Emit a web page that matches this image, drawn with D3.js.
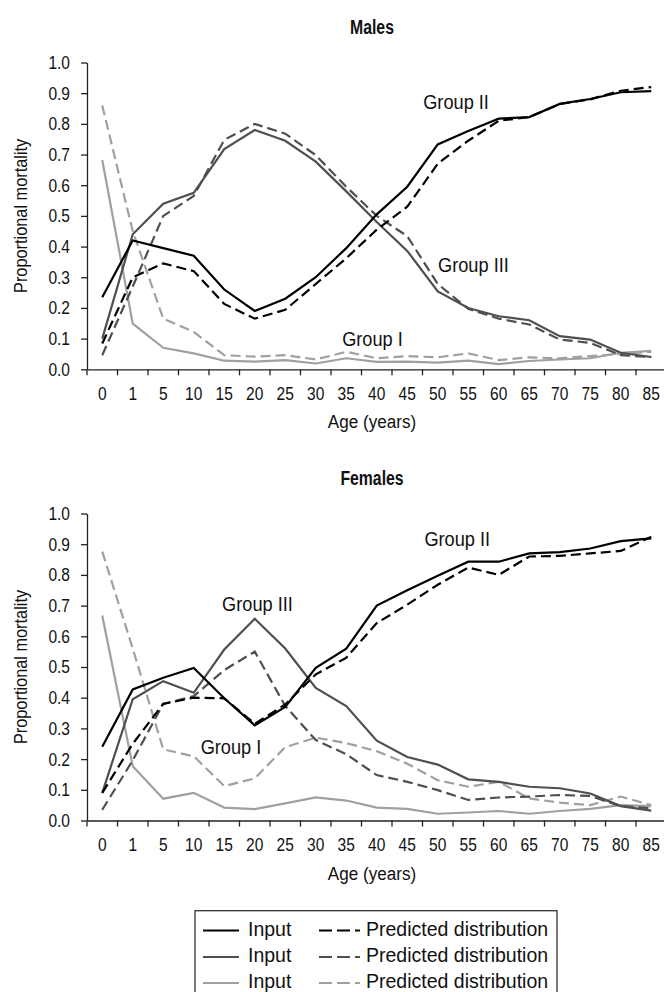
<!DOCTYPE html>
<html><head><meta charset="utf-8">
<script src="https://cdn.jsdelivr.net/npm/d3@7"></script>
<style>
html,body{margin:0;padding:0;background:#fff;}
svg{display:block;}
</style></head>
<body>
<svg id="chart" width="664" height="992"></svg>
<script>
// ---------- data ----------
const ages = ["0","1","5","10","15","20","25","30","35","40","45","50","55","60","65","70","75","80","85"];
const yTickValues = [0,0.1,0.2,0.3,0.4,0.5,0.6,0.7,0.8,0.9,1.0];

const maleG2Input = [0.235,0.42,0.395,0.37,0.26,0.19,0.23,0.30,0.395,0.505,0.595,0.733,0.777,0.817,0.822,0.865,0.881,0.903,0.907];
const maleG2Pred  = [0.084,0.30,0.345,0.32,0.213,0.165,0.194,0.278,0.362,0.455,0.53,0.67,0.745,0.81,0.822,0.865,0.88,0.908,0.92];
const maleG3Input = [0.10,0.44,0.54,0.575,0.718,0.78,0.745,0.677,0.58,0.48,0.386,0.254,0.20,0.173,0.16,0.108,0.097,0.054,0.04];
const maleG3Pred  = [0.046,0.27,0.50,0.565,0.748,0.80,0.768,0.698,0.595,0.50,0.434,0.278,0.197,0.165,0.146,0.097,0.086,0.046,0.04];
const maleG1Input = [0.682,0.149,0.07,0.052,0.028,0.025,0.03,0.019,0.036,0.024,0.025,0.022,0.028,0.017,0.027,0.032,0.036,0.054,0.06];
const maleG1Pred  = [0.86,0.45,0.165,0.122,0.046,0.041,0.046,0.032,0.057,0.036,0.043,0.039,0.052,0.03,0.039,0.036,0.043,0.05,0.057];

const femG2Input = [0.24,0.427,0.465,0.497,0.398,0.31,0.37,0.497,0.56,0.70,0.75,0.797,0.843,0.843,0.87,0.874,0.886,0.91,0.919];
const femG2Pred  = [0.09,0.25,0.38,0.40,0.398,0.315,0.378,0.476,0.53,0.643,0.703,0.768,0.824,0.80,0.86,0.862,0.87,0.878,0.924];
const femG3Input = [0.09,0.395,0.454,0.416,0.557,0.657,0.56,0.432,0.373,0.26,0.207,0.182,0.134,0.126,0.11,0.105,0.088,0.047,0.032];
const femG3Pred  = [0.035,0.196,0.38,0.405,0.49,0.55,0.373,0.262,0.216,0.148,0.126,0.099,0.067,0.075,0.078,0.083,0.08,0.047,0.04];
const femG1Input = [0.668,0.177,0.071,0.09,0.042,0.037,0.056,0.075,0.065,0.042,0.038,0.022,0.026,0.031,0.022,0.031,0.038,0.05,0.047];
const femG1Pred  = [0.876,0.56,0.232,0.209,0.112,0.137,0.239,0.27,0.252,0.226,0.185,0.131,0.11,0.126,0.072,0.058,0.05,0.078,0.05];

const panelTitles = ["Males","Females"];
const xAxisTitle = "Age (years)";
const yAxisTitle = "Proportional mortality";
const groupNames = ["Group I","Group II","Group III"];
const legendInput = ["Input","Input","Input"];
const legendPred = ["Predicted distribution","Predicted distribution","Predicted distribution"];

// ---------- styles ----------
const FONT = '"Liberation Sans",Arial,Helvetica,sans-serif';
const COL = {g2:"#000000", g3:"#4f4f4f", g1:"#a0a0a0"};
const AXIS = "#222";
const DASH = "10,5";
const LW = 2.2;

const svg = d3.select("#chart");
const x = d3.scaleBand().domain(ages).range([87,666.5]).paddingInner(0).paddingOuter(0);
const xi = i => x.range()[0] + (i+0.5)*x.step();

// horizontally condense a text (emulates a condensed typeface)
function condense(sel, s){
  sel.each(function(){
    const t = d3.select(this);
    const xx = +(t.attr("x")||0);
    t.attr("x", xx/s).attr("transform", `scale(${s},1)`);
  });
}
function ctext(parent, px, py, str, size, s, opts={}){
  const t = parent.append("text")
    .attr("transform", `translate(${px},${py})${opts.rot?` rotate(${opts.rot})`:""} scale(${s},1)`)
    .attr("text-anchor", opts.anchor||"middle")
    .style("font-family", FONT).style("font-size", size+"px")
    .style("font-weight", opts.bold?"bold":"normal")
    .attr("fill", "#111").text(str);
  if (opts.dy) t.attr("dy", opts.dy);
  return t;
}

function panel(p){
  const y = d3.scaleLinear().domain([0,1]).range([p.yBottom, p.yTop]);
  const g = svg.append("g");

  // title
  ctext(g, 372, p.titleY, p.title, 20.5, 0.77, {bold:true});

  // y axis
  const ya = g.append("g").attr("transform","translate(87,0)")
    .call(d3.axisLeft(y).tickValues(yTickValues).tickFormat(d3.format(".1f")).tickSize(6).tickSizeOuter(0).tickPadding(11));
  // x axis (labels at band centres)
  const xa = g.append("g").attr("transform",`translate(0,${p.yBottom})`)
    .call(d3.axisBottom(x).tickSize(0).tickSizeOuter(0).tickPadding(17.5));
  // boundary ticks
  xa.selectAll("line.bt").data(ages).join("line").attr("class","bt")
    .attr("x1",d=>x(d)).attr("x2",d=>x(d)).attr("y1",0).attr("y2",6);
  [ya,xa].forEach(a=>{
    a.selectAll("path.domain").attr("stroke",AXIS).attr("stroke-width",1.3);
    a.selectAll("line").attr("stroke",AXIS).attr("stroke-width",1.3);
    a.selectAll("text").style("font-family",FONT).style("font-size","18.5px").attr("fill","#111");
    condense(a.selectAll("text"), 0.84);
  });

  // axis titles
  ctext(g, 372, p.yBottom+59, xAxisTitle, 19, 0.9);
  ctext(g, 27, (p.yTop+p.yBottom)/2, yAxisTitle, 19, 0.86, {rot:-90});

  // lines
  const line = d3.line().x((d,i)=>xi(i)).y(d=>y(d));
  const order = [
    {d:p.g1i,c:COL.g1,dash:null},{d:p.g1p,c:COL.g1,dash:DASH},
    {d:p.g3i,c:COL.g3,dash:null},{d:p.g3p,c:COL.g3,dash:DASH},
    {d:p.g2i,c:COL.g2,dash:null},{d:p.g2p,c:COL.g2,dash:DASH}
  ];
  g.selectAll("path.series").data(order).join("path").attr("class","series")
    .attr("d",s=>line(s.d)).attr("fill","none").attr("stroke",s=>s.c)
    .attr("stroke-width",LW).attr("stroke-dasharray",s=>s.dash);

  // group labels (anchored in data coordinates)
  p.labels.forEach(d=>ctext(g, xi(d.i), y(d.v), d.t, 20, 0.91));
}

panel({title:panelTitles[0], titleY:34, yTop:62.5, yBottom:369.3,
  g1i:maleG1Input,g1p:maleG1Pred,g2i:maleG2Input,g2p:maleG2Pred,g3i:maleG3Input,g3p:maleG3Pred,
  labels:[{t:groupNames[1],i:11.6,v:0.848},{t:groupNames[2],i:12.17,v:0.318},{t:groupNames[0],i:8.86,v:0.076}]});
panel({title:panelTitles[1], titleY:485, yTop:513.5, yBottom:820.5,
  g1i:femG1Input,g1p:femG1Pred,g2i:femG2Input,g2p:femG2Pred,g3i:femG3Input,g3p:femG3Pred,
  labels:[{t:groupNames[1],i:11.64,v:0.894},{t:groupNames[2],i:5.09,v:0.683},{t:groupNames[0],i:4.22,v:0.217}]});

// legend
const lg = svg.append("g");
lg.append("rect").attr("x",195).attr("y",910.7).attr("width",362).attr("height",100)
  .attr("fill","#fff").attr("stroke","#333").attr("stroke-width",1.3);
const legCols = [COL.g2,COL.g3,COL.g1];
const rowY = [930.5,957,983];
legCols.forEach((c,k)=>{
  lg.append("line").attr("x1",203).attr("x2",239).attr("y1",rowY[k]).attr("y2",rowY[k]).attr("stroke",c).attr("stroke-width",LW);
  ctext(lg, 248, rowY[k]+5, legendInput[k], 19.5, 1, {anchor:"start"});
  lg.append("line").attr("x1",319).attr("x2",360).attr("y1",rowY[k]).attr("y2",rowY[k]).attr("stroke",c).attr("stroke-width",LW).attr("stroke-dasharray","13,5");
  ctext(lg, 366, rowY[k]+5, legendPred[k], 19.5, 1, {anchor:"start"});
});
</script>
</body></html>
